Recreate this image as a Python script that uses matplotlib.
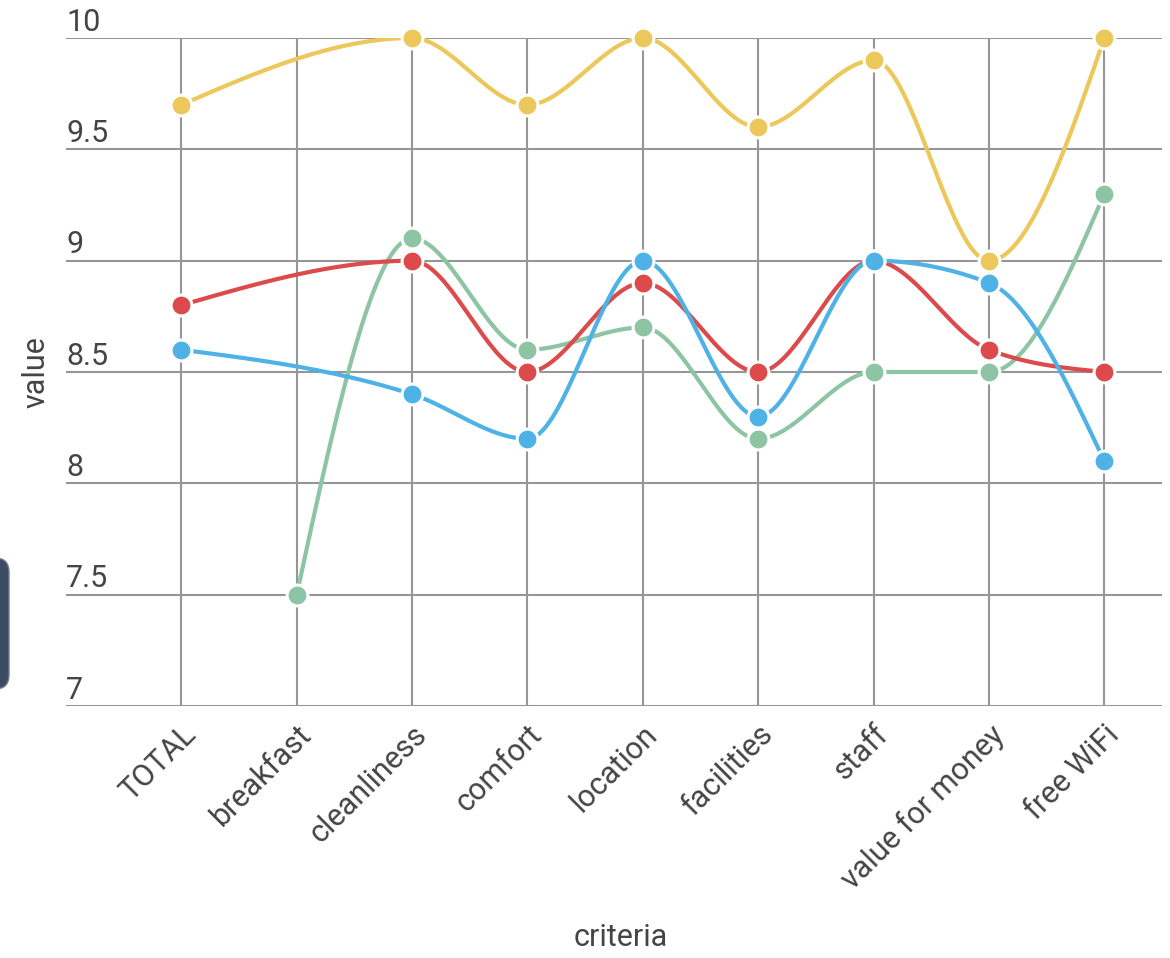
import numpy as np
import matplotlib.pyplot as plt
from matplotlib.patches import FancyBboxPatch

plt.rcParams['font.family'] = ['Roboto', 'DejaVu Sans']

criteria = ["TOTAL", "breakfast", "cleanliness", "comfort", "location",
            "facilities", "staff", "value for money", "free WiFi"]
nan = np.nan
yellow_vals = [9.7, nan, 10.0, 9.7, 10.0, 9.6, 9.9, 9.0, 10.0]
red_vals = [8.8, nan, 9.0, 8.5, 8.9, 8.5, 9.0, 8.6, 8.5]
blue_vals = [8.6, nan, 8.4, 8.2, 9.0, 8.3, 9.0, 8.9, 8.1]
green_vals = [nan, 7.5, 9.1, 8.6, 8.7, 8.2, 8.5, 8.5, 9.3]
y_ticks = [7, 7.5, 8, 8.5, 9, 9.5, 10]
y_tick_labels = ["7", "7.5", "8", "8.5", "9", "9.5", "10"]

series = [
    (green_vals, "#8cc4a4"),
    (yellow_vals, "#ecc75a"),
    (red_vals, "#dc4a4b"),
    (blue_vals, "#4fb2e6"),
]


def monotone_x(xs, ys, steps=40):
    # monotone cubic (Steffen-style slopes) through the given points
    xs = np.asarray(xs, float)
    ys = np.asarray(ys, float)
    m = len(xs)
    if m < 3:
        return xs, ys
    t = np.zeros(m)
    for i in range(1, m - 1):
        h0 = xs[i] - xs[i - 1]
        h1 = xs[i + 1] - xs[i]
        s0 = (ys[i] - ys[i - 1]) / h0
        s1 = (ys[i + 1] - ys[i]) / h1
        p = (s0 * h1 + s1 * h0) / (h0 + h1)
        sg0 = -1 if s0 < 0 else 1
        sg1 = -1 if s1 < 0 else 1
        t[i] = (sg0 + sg1) * min(abs(s0), abs(s1), 0.5 * abs(p))
    t[0] = (3 * (ys[1] - ys[0]) / (xs[1] - xs[0]) - t[1]) / 2
    t[-1] = (3 * (ys[-1] - ys[-2]) / (xs[-1] - xs[-2]) - t[-2]) / 2
    out_x, out_y = [], []
    for i in range(m - 1):
        h = xs[i + 1] - xs[i]
        u = np.linspace(0, 1, steps)
        h00 = 2 * u**3 - 3 * u**2 + 1
        h10 = u**3 - 2 * u**2 + u
        h01 = -2 * u**3 + 3 * u**2
        h11 = u**3 - u**2
        out_x.append(xs[i] + u * h)
        out_y.append(h00 * ys[i] + h10 * h * t[i] + h01 * ys[i + 1] + h11 * h * t[i + 1])
    return np.concatenate(out_x), np.concatenate(out_y)


fig = plt.figure(figsize=(11.7, 9.58), dpi=100)
ax = fig.add_axes([66 / 1170, 252 / 958, 1096 / 1170, 668 / 958])

x = np.arange(len(criteria))
for vals, color in series:
    v = np.asarray(vals, float)
    ok = ~np.isnan(v)
    sx, sy = monotone_x(x[ok], v[ok])
    ax.plot(sx, sy, color=color, lw=3.0, zorder=3, solid_capstyle="round")
for vals, color in series:
    v = np.asarray(vals, float)
    ok = ~np.isnan(v)
    ax.plot(x[ok], v[ok], ls="none", marker="o", ms=15, mfc=color,
            mec="white", mew=2.2, zorder=4, clip_on=False)

ax.set_xlim(-1, 8.5)
ax.set_ylim(7, 10)
ax.set_yticks(y_ticks)
ax.set_xticks(x)
ax.grid(True, color="#969696", lw=1.5)
ax.set_axisbelow(True)
for s in ax.spines.values():
    s.set_visible(False)

ax.tick_params(axis="both", length=0)
ax.set_yticklabels([])
for val, lab in zip(y_ticks, y_tick_labels):
    ax.annotate(lab, xy=(0, val), xycoords=("axes fraction", "data"),
                xytext=(0, 1), textcoords="offset points",
                ha="left", va="bottom", fontsize=22, color="#444444")

ax.set_xticklabels(criteria, rotation=45, ha="right", rotation_mode="anchor",
                   fontsize=22, color="#444444")
ax.tick_params(axis="x", pad=10)

fig.text(36 / 1170, 1 - 372 / 958, "value", rotation=90, ha="center",
         va="center", fontsize=22, color="#444444")
fig.text(621 / 1170, 1 - 938 / 958, "criteria", ha="center", va="center",
         fontsize=22, color="#444444")

# dark tab peeking in from the left edge
tab = FancyBboxPatch((-40, 958 - 689), 49, 131, boxstyle="round,pad=0,rounding_size=14",
                     transform=None, facecolor="#3c4a62", edgecolor="#6f7d92",
                     lw=1.0, zorder=5)
fig.patches.append(tab)

fig.savefig("out.png", dpi=100)
